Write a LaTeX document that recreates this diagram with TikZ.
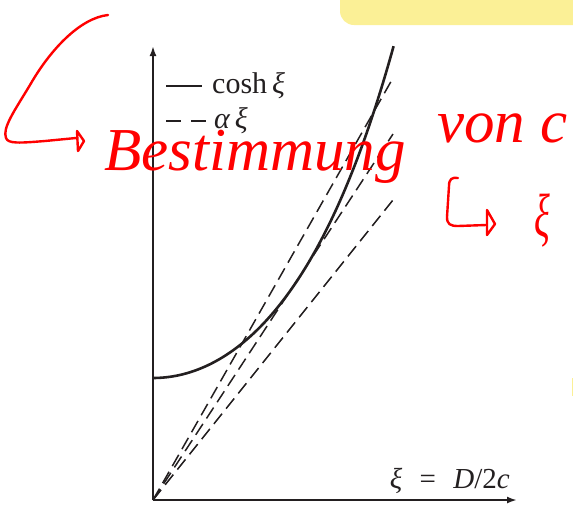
\documentclass[tikz,border=0pt]{standalone}
\usepackage{fontspec}
\setmainfont{Liberation Serif}
\usetikzlibrary{arrows.meta}
\definecolor{hlyellow}{RGB}{251,240,150}
\definecolor{ink}{RGB}{35,31,32}
\definecolor{penred}{RGB}{255,0,0}
\tikzset{
  axisline/.style={line width=2pt, draw=ink, -{Latex[length=10pt,width=7pt]}},
  coshline/.style={line width=2.6pt, draw=ink},
  alphaline/.style={line width=1.5pt, draw=ink, dash pattern=on 13pt off 6.5pt},
  legdash/.style={line width=1.8pt, draw=ink, dash pattern=on 15pt off 10pt},
  penstroke/.style={draw=penred, line width=2.4pt, line cap=round, line join=round},
  lbl/.style={font=\fontsize{30}{33}\selectfont, text=ink, inner sep=0pt},
  axlbl/.style={font=\fontsize{29}{32}\selectfont, text=ink, inner sep=0pt},
  hand/.style={font=\fontsize{61}{70}\selectfont\itshape, text=penred, inner sep=0pt}
}
\begin{document}
\begin{tikzpicture}[x=1pt,y=-1pt]
\useasboundingbox (0,0) rectangle (573,504);
\clip (0,0) rectangle (573,504);
% yellow highlight boxes
\fill[hlyellow, rounded corners=14pt] (340,-30) rectangle (600,25);
\fill[hlyellow] (571.5,378) rectangle (573,396);
% axes
\coordinate (O) at (153,500);
\coordinate (Ytip) at (153,46);
\coordinate (Xtip) at (517,500);
\draw[axisline] (O) -- (Ytip);
\draw[axisline] (O) -- (Xtip);
% lines alpha xi
\coordinate (A) at (393,78);
\coordinate (B) at (393,134);
\coordinate (C) at (393,200);
\draw[alphaline] (O) -- (A);
\draw[alphaline] (O) -- (B);
\draw[alphaline] (O) -- (C);
% cosh curve
\draw[coshline] plot[domain=0:1.99,samples=120,smooth] ({153+121*\x},{500-122*cosh(\x)});
% legend
\coordinate (L1a) at (166,86);
\coordinate (L1b) at (202,86);
\draw[line width=2.2pt, draw=ink] (L1a) -- (L1b);
\node[lbl, anchor=base west] (lcosh) at (212,93) {cosh\,\textit{ξ}};
\coordinate (L2a) at (166,121);
\coordinate (L2b) at (208,121);
\draw[legdash] (L2a) -- (L2b);
\node[lbl, anchor=base west] (lalpha) at (214,128) {\textit{α\,ξ}};
% axis label
\node[axlbl, anchor=base east] (xlab) at (510,488) {\textit{ξ}\hspace{0.6em}=\hspace{0.6em}\textit{D}/2\textit{c}};
% handwriting
\draw[penstroke] (108,15) .. controls (80,18) and (50,50) .. (30,85) .. controls (15,110) and (2,128) .. (6,138) .. controls (8,144) and (20,143) .. (45,141) -- (76,138);
\draw[penstroke] (77,131) -- (78,151) -- (84,141) -- cycle;
\node[hand, anchor=base west] (best) at (104,170) {Bestimmung};
\node[hand, anchor=base west] (von) at (437,142) {von c};
\draw[penstroke] (458,178) .. controls (452,177) and (449,179) .. (449,186) -- (447,217) .. controls (447,224) and (450,226) .. (458,226) -- (486,225);
\draw[penstroke] (487,210) -- (487,235) -- (495,224) -- cycle;
\node[hand, anchor=center] (xi) at (542,221) {\scalebox{0.6}[1]{ξ}};
\end{tikzpicture}
\end{document}
